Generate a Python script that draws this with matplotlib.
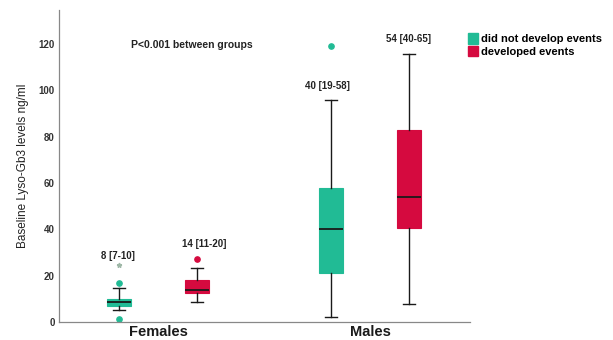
import matplotlib
matplotlib.use("Agg")
import matplotlib.pyplot as plt
from matplotlib.patches import Patch
from matplotlib import font_manager

# ---- data -------------------------------------------------------------
groups = ["Females", "Males"]
series = ["did not develop events", "developed events"]

# did not develop events
no_event_q1 = [7.0, 21.0]
no_event_med = [8.5, 40.0]
no_event_q3 = [10.0, 58.0]
no_event_lo = [5.2, 2.3]
no_event_hi = [14.8, 96.0]
no_event_outliers = [[16.7, 1.4], [119.0]]
no_event_extremes = [[24.6], []]

# developed events
event_q1 = [12.6, 40.7]
event_med = [14.0, 54.0]
event_q3 = [18.0, 83.0]
event_lo = [8.7, 7.8]
event_hi = [23.4, 115.5]
event_outliers = [[27.2], []]
event_extremes = [[], []]

no_event_labels = ["8 [7-10]", "40 [19-58]"]
event_labels = ["14 [11-20]", "54 [40-65]"]
p_text = "P<0.001 between groups"
y_label = "Baseline Lyso-Gb3 levels ng/ml"
y_ticks = [0, 20, 40, 60, 80, 100, 120]

# ---- style ------------------------------------------------------------
available = {f.name for f in font_manager.fontManager.ttflist}
family = "Liberation Sans Narrow" if "Liberation Sans Narrow" in available else "Liberation Sans"
plt.rcParams["font.family"] = [family, "DejaVu Sans"]

green = "#21bb95"
red = "#d50a3f"
colors = [green, red]
ink = "#1a1a1a"

fig = plt.figure(figsize=(6.13, 3.40), dpi=100)
ax = fig.add_axes([59 / 613, 1 - 322 / 340, (470 - 59) / 613, (322 - 10) / 340])

offset = 0.185
width = 0.115


def stats(q1, med, q3, lo, hi, fl):
    return [dict(q1=a, med=m, q3=b, whislo=l, whishi=h, fliers=f)
            for a, m, b, l, h, f in zip(q1, med, q3, lo, hi, fl)]


sets = [
    stats(no_event_q1, no_event_med, no_event_q3, no_event_lo, no_event_hi, no_event_outliers),
    stats(event_q1, event_med, event_q3, event_lo, event_hi, event_outliers),
]
extremes = [no_event_extremes, event_extremes]
labels = [no_event_labels, event_labels]

# annotation placement (x in group units, y in data units)
label_y = [[28.5, 102.0], [33.5, 122.0]]
label_x = [[-0.19, 0.80], [0.22, 1.18]]

for k, (st, col) in enumerate(zip(sets, colors)):
    pos = [i + (2 * k - 1) * offset for i in range(len(groups))]
    ax.bxp(st, positions=pos, widths=width, capwidths=width * 0.5,
           patch_artist=True, manage_ticks=False,
           boxprops=dict(facecolor=col, edgecolor=col, linewidth=0.8),
           medianprops=dict(color=ink, linewidth=1.3),
           whiskerprops=dict(color=ink, linewidth=1.0),
           capprops=dict(color=ink, linewidth=1.0),
           flierprops=dict(marker="o", markersize=3.8, markerfacecolor=col,
                           markeredgecolor=col, linestyle="none"))
    for i, ext in enumerate(extremes[k]):
        if ext:
            ax.plot([pos[i]] * len(ext), ext, linestyle="none", marker="*",
                    markersize=3.5, color="#9fb8a8")
    for i, txt in enumerate(labels[k]):
        ax.text(label_x[k][i], label_y[k][i], txt, ha="center", va="center",
                fontsize=7, fontweight="bold", color="#222222")

ax.text(0.16, 119.5, p_text, ha="center", va="center", fontsize=7.5,
        fontweight="bold", color="#222222")

ax.set_xlim(-0.467, 1.472)
ax.set_ylim(0, 134.7)
ax.set_yticks(y_ticks)
ax.set_yticklabels([str(t) for t in y_ticks], fontsize=7, fontweight="bold",
                   color="#333333")
ax.tick_params(axis="y", length=0, pad=3)
ax.set_xticks(range(len(groups)))
ax.set_xticklabels(groups, fontsize=10.5, fontweight="bold", color=ink)
ax.tick_params(axis="x", length=0, pad=2)
ax.set_ylabel(y_label, fontsize=8.5, color="#222222", labelpad=7)

for side in ["top", "right"]:
    ax.spines[side].set_visible(False)
for side in ["left", "bottom"]:
    ax.spines[side].set_color("#888888")
    ax.spines[side].set_linewidth(0.9)

handles = [Patch(facecolor=c, edgecolor=c) for c in colors]
fig.legend(handles, series, loc="upper left",
           bbox_to_anchor=(468 / 613, 1 - 33 / 340), frameon=False,
           handlelength=0.9, handleheight=1.1, handletextpad=0.25,
           labelspacing=0.15, borderpad=0, borderaxespad=0,
           prop=dict(family=[family, "DejaVu Sans"], size=8, weight="bold"))

fig.savefig("out.png", dpi=100)
